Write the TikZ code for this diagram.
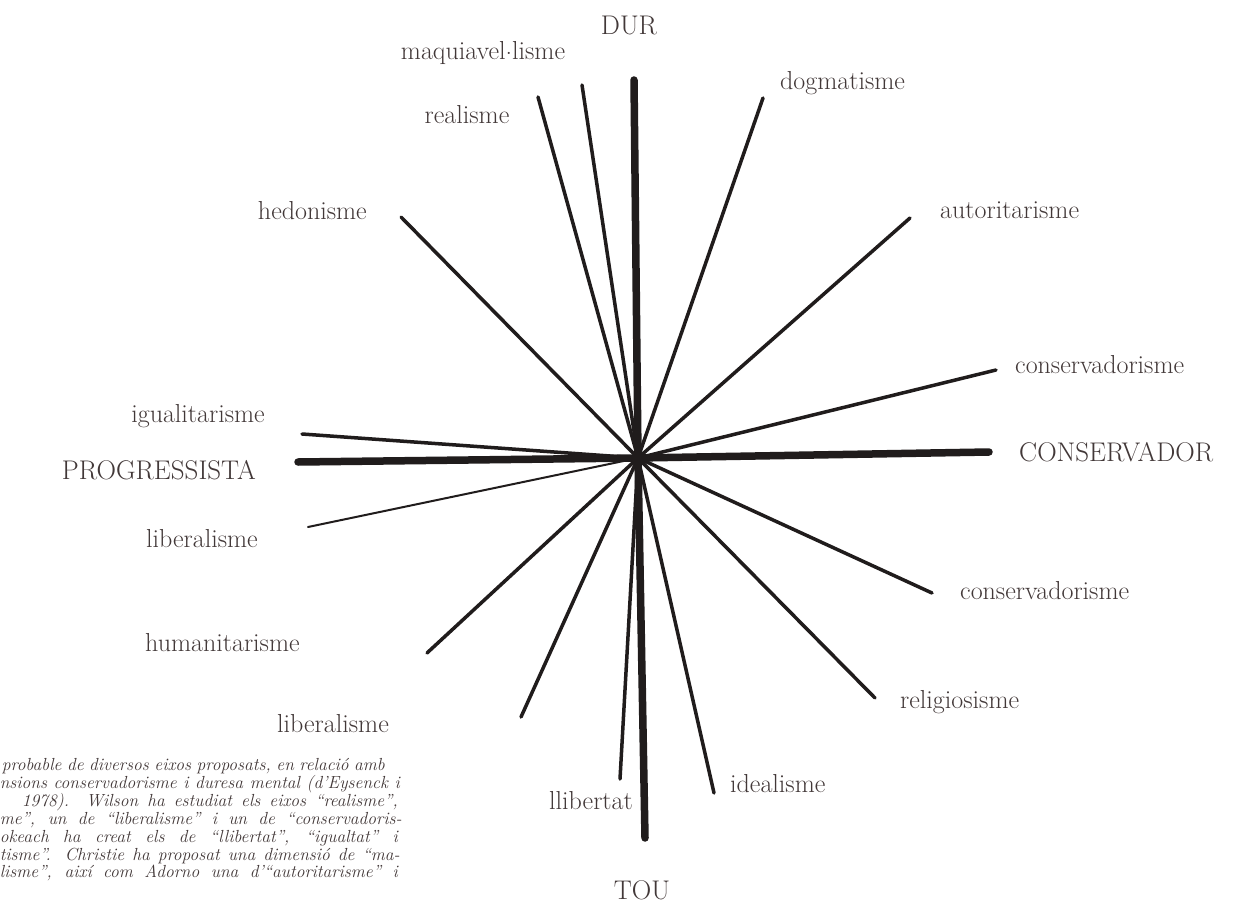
\documentclass[tikz,border=0pt]{standalone}
\usepackage{fontspec}
\definecolor{ink}{RGB}{32,28,28}
\definecolor{txt}{RGB}{66,56,56}
\tikzset{
  lbl/.style={text=txt, font=\fontsize{26}{30}\selectfont, inner sep=0pt},
  biglbl/.style={text=txt, font=\fontsize{27}{30}\selectfont, inner sep=0pt},
  capline/.style={text=txt, font=\itshape\fontsize{17.5}{18}\selectfont\addfontfeatures{LetterSpace=3}, inner sep=0pt, anchor=base east},
  ray/.style={draw=ink, line width=3.5pt, line cap=round},
  axisray/.style={ray, line width=7.5pt},
  thinray/.style={ray, line width=2pt}
}
\begin{document}
\begin{tikzpicture}[x=1pt,y=-1pt]
\useasboundingbox[fill=white] (0,0) rectangle (1241,904);
\coordinate (c) at (638,458);
% ray ends
\coordinate (eDUR) at (634,80);
\coordinate (eTOU) at (645,838);
\coordinate (ePRO) at (298,462);
\coordinate (eCON) at (989,452);
\coordinate (eMaq) at (582,85);
\coordinate (eRea) at (538,97);
\coordinate (eDog) at (763,98);
\coordinate (eHed) at (401,217);
\coordinate (eAut) at (910,218);
\coordinate (eCons1) at (996,370);
\coordinate (eIgu) at (302,434);
\coordinate (eLib1) at (308,527);
\coordinate (eCons2) at (932,593);
\coordinate (eHum) at (427,653);
\coordinate (eRel) at (875,698);
\coordinate (eLib2) at (521,717);
\coordinate (eLli) at (620,779);
\coordinate (eIde) at (714,793);
% rays
\foreach \e in {eMaq,eRea,eDog,eHed,eAut,eCons1,eIgu,eCons2,eHum,eRel,eLib2,eLli,eIde}
  \draw[ray] (c) -- (\e);
\draw[thinray] (c) -- (eLib1);
\draw[axisray] (eDUR) -- (c) -- (eTOU);
\draw[axisray] (ePRO) -- (c) -- (eCON);
% labels
\node[biglbl] (DUR) at (629,25) {DUR};
\node[biglbl] (TOU) at (642,890) {TOU};
\node[biglbl, anchor=west] (CON) at (1019,452) {CONSERVADOR};
\node[biglbl, anchor=east] (PRO) at (256,470) {PROGRESSISTA};
\node[lbl, anchor=mid] (maq) at (483,57) {maquiavel\raisebox{0.42ex}{.}lisme};
\node[lbl, anchor=mid] (rea) at (467,121) {realisme};
\node[lbl, anchor=mid west] (dog) at (780,87) {dogmatisme};
\node[lbl, anchor=mid east] (hed) at (367,217) {hedonisme};
\node[lbl, anchor=mid west] (aut) at (940,216) {autoritarisme};
\node[lbl, anchor=mid west] (cons1) at (1015,371) {conservadorisme};
\node[lbl, anchor=mid east] (igu) at (265,420) {igualitarisme};
\node[lbl, anchor=mid east] (lib1) at (258,545) {liberalisme};
\node[lbl, anchor=mid west] (cons2) at (960,597) {conservadorisme};
\node[lbl, anchor=mid west] (hum) at (145,649) {humanitarisme};
\node[lbl, anchor=mid west] (rel) at (900,706) {religiosisme};
\node[lbl, anchor=mid west] (lib2) at (277,730) {liberalisme};
\node[lbl, anchor=mid east] (lli) at (633,807) {llibertat};
\node[lbl, anchor=mid west] (ide) at (730,790) {idealisme};
% caption
\node[capline] (c1) at (385,770) {\makebox[383pt][s]{probable de diversos eixos proposats, en relació amb}};
\node[capline] (c2) at (400,788) {\makebox[400pt][s]{nsions conservadorisme i duresa mental (d’Eysenck i}};
\node[capline] (c3) at (398,806) {\makebox[376pt][s]{1978). Wilson ha estudiat els eixos “realisme”,}};
\node[capline] (c4) at (402,824) {\makebox[402pt][s]{me”, un de “liberalisme” i un de “conservadoris-}};
\node[capline] (c5) at (398,842) {\makebox[398pt][s]{okeach ha creat els de “llibertat”, “igualtat” i}};
\node[capline] (c6) at (400,860) {\makebox[400pt][s]{tisme”. Christie ha proposat una dimensió de “ma-}};
\node[capline] (c7) at (398,877) {\makebox[398pt][s]{lisme”, així com Adorno una d’“autoritarisme” i}};
\end{tikzpicture}
\end{document}
